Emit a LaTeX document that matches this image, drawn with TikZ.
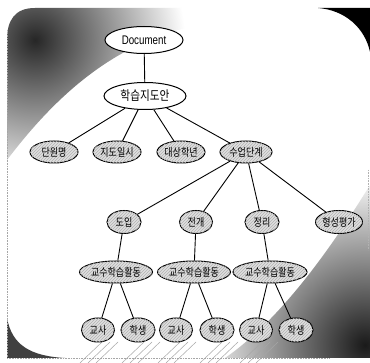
\documentclass[tikz,border=0pt]{standalone}
\usepackage{fontspec}
\setmainfont{Liberation Sans}
\newfontfamily\kr{Noto Sans CJK KR}
\usetikzlibrary{shapes.geometric,patterns}
\newcommand{\nt}[1]{\scalebox{0.82}[1]{#1}}
\begin{document}
\begin{tikzpicture}[x=1pt,y=-1pt,
  el/.style={ellipse,draw=black,line width=1pt,inner sep=0pt,font=\kr\fontsize{11}{11}\selectfont,
     fill=gray!25,postaction={pattern=north east lines,pattern color=gray!60}},
  top/.style={ellipse,draw=black,line width=1pt,inner sep=0pt,fill=white},
  lk/.style={line width=0.9pt,black},
  hatch/.style={gray!70,line width=0.5pt}]
\useasboundingbox (0,0) rectangle (370,363);
\fill[white] (0,0) rectangle (370,363);
% top-left shaded corner
\begin{scope}
  \clip (7,40) .. controls (7,20) and (15,8) .. (35,8) -- (200,8) -- (200,25)
        .. controls (120,40) and (60,90) .. (7,160) -- cycle;
  \shade[inner color=black!85,outer color=white] (35,40) circle (150);
\end{scope}
% top-right black corner
\fill[black] (318,8) .. controls (345,10) and (365,28) .. (370,52) -- (370,8) -- cycle;
% bottom-left dark corner
\fill[black!75] (7,318) .. controls (12,345) and (30,356) .. (65,358) -- (7,358) -- cycle;
% bottom-right shaded region
\begin{scope}
  \clip (370,185) .. controls (330,250) and (280,320) .. (225,358) -- (370,358) -- cycle;
  \shade[inner color=black!90,outer color=white] (365,345) circle (170);
\end{scope}
% frame lines
\draw[gray!70,densely dotted,line width=0.6pt] (7,30) -- (7,358) -- (330,358);
\draw[gray!60,densely dotted,line width=0.6pt] (368,170) -- (368,250);
% hatching below leaves
\foreach \x in {80,88,96,122,130,138,158,166,174,200,208,216,240,248,256}
  \draw[hatch] (\x,363) -- (\x+22,342);
% nodes
\node[top,minimum width=78pt,minimum height=27pt] (doc) at (144,40)
  {\fontsize{12.5}{12.5}\selectfont\scalebox{0.78}[1]{Document}};
\node[top,minimum width=82pt,minimum height=27pt,font=\kr\fontsize{13}{13}\selectfont] (plan) at (145,96) {\nt{학습지도안}};
\node[el,minimum width=48pt,minimum height=22pt] (unit) at (54,152) {\nt{단원명}};
\node[el,minimum width=48pt,minimum height=22pt] (date) at (117,152) {\nt{지도일시}};
\node[el,minimum width=48pt,minimum height=22pt] (grade) at (181,152) {\nt{대상학년}};
\node[el,minimum width=52pt,minimum height=22pt] (step) at (246,152) {\nt{수업단계}};
\node[el,minimum width=34pt,minimum height=23pt] (intro) at (124,222) {\nt{도입}};
\node[el,minimum width=33pt,minimum height=23pt] (dev) at (196,222) {\nt{전개}};
\node[el,minimum width=34pt,minimum height=23pt] (sum) at (262,222) {\nt{정리}};
\node[el,minimum width=46pt,minimum height=23pt] (eval) at (339,222) {\nt{형성평가}};
\node[el,minimum width=73pt,minimum height=22pt] (act1) at (116,272) {\nt{교수학습활동}};
\node[el,minimum width=73pt,minimum height=22pt] (act2) at (194,272) {\nt{교수학습활동}};
\node[el,minimum width=74pt,minimum height=22pt] (act3) at (270,272) {\nt{교수학습활동}};
\node[el,minimum width=33pt,minimum height=24pt] (t1) at (98,330) {\nt{교사}};
\node[el,minimum width=34pt,minimum height=24pt] (s1) at (138,330) {\nt{학생}};
\node[el,minimum width=33pt,minimum height=24pt] (t2) at (176,330) {\nt{교사}};
\node[el,minimum width=34pt,minimum height=24pt] (s2) at (217,330) {\nt{학생}};
\node[el,minimum width=33pt,minimum height=24pt] (t3) at (256,330) {\nt{교사}};
\node[el,minimum width=34pt,minimum height=24pt] (s3) at (296,330) {\nt{학생}};
% links
\draw[lk] (doc) -- (plan);
\foreach \c in {unit,date,grade,step} \draw[lk] (plan) -- (\c);
\foreach \c in {intro,dev,sum,eval} \draw[lk] (step) -- (\c);
\draw[lk] (intro) -- (act1);
\draw[lk] (dev) -- (act2);
\draw[lk] (sum) -- (act3);
\draw[lk] (act1) -- (t1); \draw[lk] (act1) -- (s1);
\draw[lk] (act2) -- (t2); \draw[lk] (act2) -- (s2);
\draw[lk] (act3) -- (t3); \draw[lk] (act3) -- (s3);
\end{tikzpicture}
\end{document}
